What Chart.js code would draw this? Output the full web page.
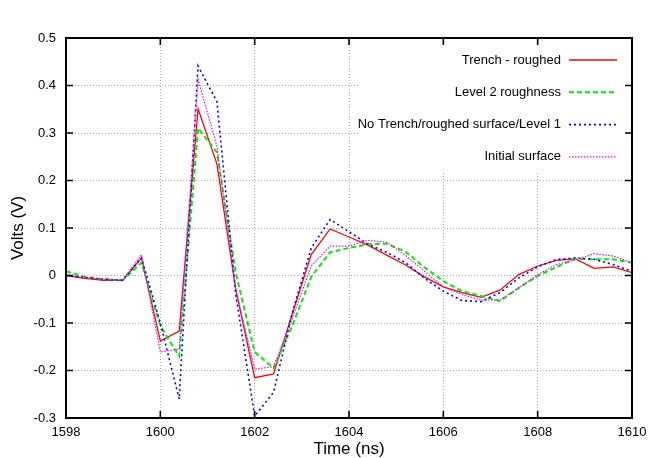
<!DOCTYPE html>
<html>
<head>
<meta charset="utf-8">
<script src="https://cdn.jsdelivr.net/npm/chart.js@4.4.1/dist/chart.umd.min.js"></script>
<style>
  body { margin: 0; background: #fff; }
</style>
</head>
<body>
<canvas id="myChart" width="654" height="458"></canvas>
<script>
// Sample times (ns)
const times = [1598, 1598.4, 1598.8, 1599.2, 1599.6, 1600, 1600.4, 1600.8, 1601.2, 1601.6,
               1602, 1602.4, 1602.8, 1603.2, 1603.6, 1604, 1604.4, 1604.8, 1605.2, 1605.6,
               1606, 1606.4, 1606.8, 1607.2, 1607.6, 1608, 1608.4, 1608.8, 1609.2, 1609.6, 1610]

// Volts per series
const trenchRoughed = [0.0, -0.006, -0.01, -0.01, 0.037, -0.138, -0.117, 0.351, 0.235, -0.03,
                       -0.215, -0.207, -0.08, 0.044, 0.098, 0.081, 0.064, 0.043, 0.022, -0.003,
                       -0.024, -0.036, -0.046, -0.031, 0.002, 0.02, 0.032, 0.035, 0.015, 0.018, 0.006]
const level2 = [0.009, -0.003, -0.008, -0.01, 0.027, -0.106, -0.17, 0.31, 0.259, 0.005,
                -0.161, -0.195, -0.105, -0.003, 0.049, 0.058, 0.066, 0.067, 0.05, 0.017,
                -0.012, -0.033, -0.043, -0.054, -0.026, -0.001, 0.018, 0.035, 0.034, 0.034, 0.027]
const noTrench = [0.0, -0.004, -0.008, -0.01, 0.037, -0.1, -0.26, 0.441, 0.366, -0.04,
                  -0.296, -0.246, -0.078, 0.058, 0.118, 0.092, 0.066, 0.049, 0.027, -0.006,
                  -0.033, -0.053, -0.055, -0.036, -0.005, 0.018, 0.034, 0.037, 0.034, 0.023, 0.009]
const initialSurface = [0.002, -0.004, -0.008, -0.01, 0.044, -0.161, -0.155, 0.413, 0.272, -0.03,
                        -0.197, -0.192, -0.09, 0.02, 0.062, 0.062, 0.074, 0.07, 0.042, 0.009,
                        -0.024, -0.04, -0.052, -0.051, -0.026, 0.002, 0.023, 0.033, 0.046, 0.041, 0.027]

const seriesNames = ['Trench - roughed', 'Level 2 roughness', 'No Trench/roughed surface/Level 1', 'Initial surface']
const xTicks = [1598, 1600, 1602, 1604, 1606, 1608, 1610]
const yTicks = [-0.3, -0.2, -0.1, 0, 0.1, 0.2, 0.3, 0.4, 0.5]

Chart.defaults.font.family = "'Liberation Sans', Arial, sans-serif"
Chart.defaults.color = '#000'

const toPts = arr => arr.map((v, i) => ({ x: times[i], y: v }))

const styles = [
    { color: '#ff0000', width: 1.3, dash: [] },
    { color: '#00ee00', width: 2, dash: [5, 3] },
    { color: '#0000ff', width: 1.6, dash: [2, 3] },
    { color: '#ff00ff', width: 1.2, dash: [1.5, 1.5] }
]
const allSeries = [trenchRoughed, level2, noTrench, initialSurface]

const datasets = allSeries.map((s, i) => ({
    label: seriesNames[i],
    data: toPts(s),
    borderColor: styles[i].color,
    borderWidth: styles[i].width,
    borderDash: styles[i].dash,
    pointRadius: 0,
    tension: 0,
    fill: false,
    order: 4 - i
}))

// Legend box + frame + inward ticks, gnuplot style
const gnuplotLook = {
    id: 'gnuplotLook',
    beforeDatasetsDraw(chart) {
        const { ctx, chartArea } = chart
        ctx.save()
        ctx.fillStyle = '#fff'
        ctx.fillRect(358, chartArea.top, chartArea.right - 358, 134)
        ctx.restore()
    },
    afterDatasetsDraw(chart) {
        const { ctx } = chart
        ctx.save()
        ctx.font = "13px 'Liberation Sans', Arial, sans-serif"
        ctx.textAlign = 'right'
        ctx.textBaseline = 'middle'
        chart.data.datasets.forEach((ds, i) => {
            const y = 60 + i * 32.3
            ctx.fillStyle = '#000'
            ctx.fillText(ds.label, 561, y)
            ctx.strokeStyle = ds.borderColor
            ctx.lineWidth = ds.borderWidth
            ctx.setLineDash(ds.borderDash)
            ctx.beginPath()
            ctx.moveTo(569, y)
            ctx.lineTo(617, y)
            ctx.stroke()
        })
        ctx.restore()
    },
    afterDraw(chart) {
        const { ctx, chartArea: a, scales } = chart
        ctx.save()
        ctx.strokeStyle = '#000'
        ctx.lineWidth = 1.6
        ctx.setLineDash([])
        ctx.beginPath()
        xTicks.forEach(v => {
            const x = scales.x.getPixelForValue(v)
            ctx.moveTo(x, a.bottom); ctx.lineTo(x, a.bottom - 7)
            ctx.moveTo(x, a.top); ctx.lineTo(x, a.top + 7)
        })
        yTicks.forEach(v => {
            const y = scales.y.getPixelForValue(v)
            ctx.moveTo(a.left, y); ctx.lineTo(a.left + 7, y)
            ctx.moveTo(a.right, y); ctx.lineTo(a.right - 7, y)
        })
        ctx.stroke()
        ctx.lineWidth = 2
        ctx.strokeRect(a.left, a.top, a.right - a.left, a.bottom - a.top)
        ctx.restore()
    }
}

const config = {
    type: 'line',
    data: { datasets: datasets },
    options: {
        responsive: false,
        animation: false,
        layout: { padding: { top: 38, right: 22, left: 0, bottom: 0 } },
        plugins: {
            legend: { display: false },
            tooltip: { enabled: false }
        },
        scales: {
            x: {
                type: 'linear',
                min: 1598,
                max: 1610,
                afterBuildTicks: s => { s.ticks = xTicks.map(v => ({ value: v })) },
                afterFit: s => { s.height = 40 },
                ticks: { font: { size: 13 }, padding: 7, maxRotation: 0, callback: v => String(v) },
                grid: { color: '#a8a8a8', lineWidth: 1, drawTicks: false },
                border: { display: false, dash: [1, 2] },
                title: {
                    display: true,
                    text: 'Time (ns)',
                    font: { size: 17, lineHeight: 1 },
                    padding: { top: 0, bottom: 0 }
                }
            },
            y: {
                min: -0.3,
                max: 0.5,
                afterBuildTicks: s => { s.ticks = yTicks.map(v => ({ value: v })) },
                afterFit: s => { s.width = 66 },
                ticks: { font: { size: 13 }, padding: 10, callback: v => String(v) },
                grid: { color: '#a8a8a8', lineWidth: 1, drawTicks: false },
                border: { display: false, dash: [1, 2] },
                title: {
                    display: true,
                    text: 'Volts (V)',
                    font: { size: 17, lineHeight: 1 },
                    padding: { top: 10, bottom: 0 }
                }
            }
        }
    },
    plugins: [gnuplotLook]
}

const ctx = document.getElementById('myChart').getContext('2d')
new Chart(ctx, config)
</script>
</body>
</html>
